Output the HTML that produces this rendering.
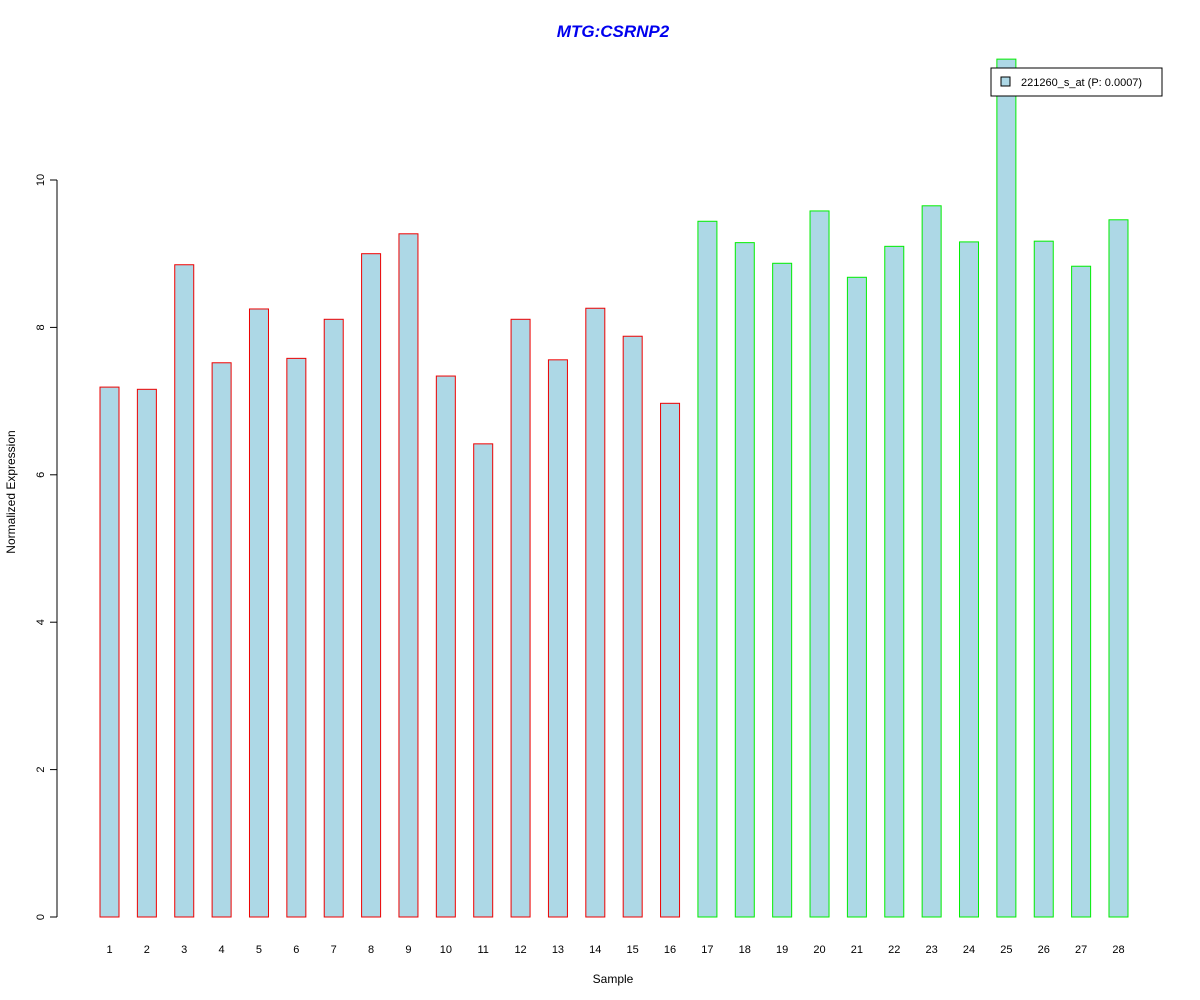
<!DOCTYPE html>
<html><head><meta charset="utf-8"><style>
body{margin:0;background:#fff}
svg{display:block;font-family:"Liberation Sans",Arial,sans-serif}
</style></head><body>
<svg id="chart" width="1200" height="1000" viewBox="0 0 1200 1000">
<rect width="1200" height="1000" fill="#fff"/>
<text x="613" y="37" text-anchor="middle" font-size="17" font-weight="bold" font-style="italic" fill="#0000ee">MTG:CSRNP2</text>
<text x="613" y="983" text-anchor="middle" font-size="12">Sample</text>
<text x="15" y="492" text-anchor="middle" font-size="12" transform="rotate(-90 15 492)">Normalized Expression</text>
<g id="yaxis"></g>
<g id="xlabels"></g>
<g id="bars"></g>
<g>
<rect x="991" y="68" width="171" height="28" fill="#fff" stroke="#000"/>
<rect x="1001" y="77" width="9" height="9" fill="#add8e6" stroke="#000"/>
<text x="1021" y="86" font-size="11">221260_s_at (P: 0.0007)</text>
</g>
</svg>
<script>
const categories=["1","2","3","4","5","6","7","8","9","10","11","12","13","14","15","16","17","18","19","20","21","22","23","24","25","26","27","28"];
const values=[7.19,7.16,8.85,7.52,8.25,7.58,8.11,9.0,9.27,7.34,6.42,8.11,7.56,8.26,7.88,6.97,9.44,9.15,8.87,9.58,8.68,9.10,9.65,9.16,11.64,9.17,8.83,9.46];
const groups=[0,0,0,0,0,0,0,0,0,0,0,0,0,0,0,0,1,1,1,1,1,1,1,1,1,1,1,1];
const yTicks=[0,2,4,6,8,10];
const NS="http://www.w3.org/2000/svg";
function y(v){return 917-v*73.7;}
function x(i){return 109.5+i*37.37;}
function mk(t,a,p){const e=document.createElementNS(NS,t);for(const k in a)e.setAttribute(k,a[k]);p.appendChild(e);return e;}
const ya=document.getElementById('yaxis');
const l=mk('line',{x1:57,x2:57,y1:y(0),y2:y(10),stroke:'#000'},ya);


yTicks.forEach(t=>{
 const tk=mk('line',{x1:50,x2:57,y1:y(t),y2:y(t),stroke:'#000'},ya);
 
 
 const tx=mk('text',{x:44,y:y(t),'text-anchor':'middle','font-size':11,transform:`rotate(-90 44 ${y(t)})`},ya);
 
 
 tx.textContent=t;
});
const xl=document.getElementById('xlabels'),bg=document.getElementById('bars');
categories.forEach((c,i)=>{
 const r=mk('rect',{x:x(i)-9.5,y:y(values[i]),width:19,height:y(0)-y(values[i]),fill:'#add8e6',stroke:groups[i]?'#00ee00':'#ee0000'},bg);
 
 
 const t=mk('text',{x:x(i),y:953,'text-anchor':'middle','font-size':11},xl);
 
 
 t.textContent=c;
});
</script>
</body></html>
